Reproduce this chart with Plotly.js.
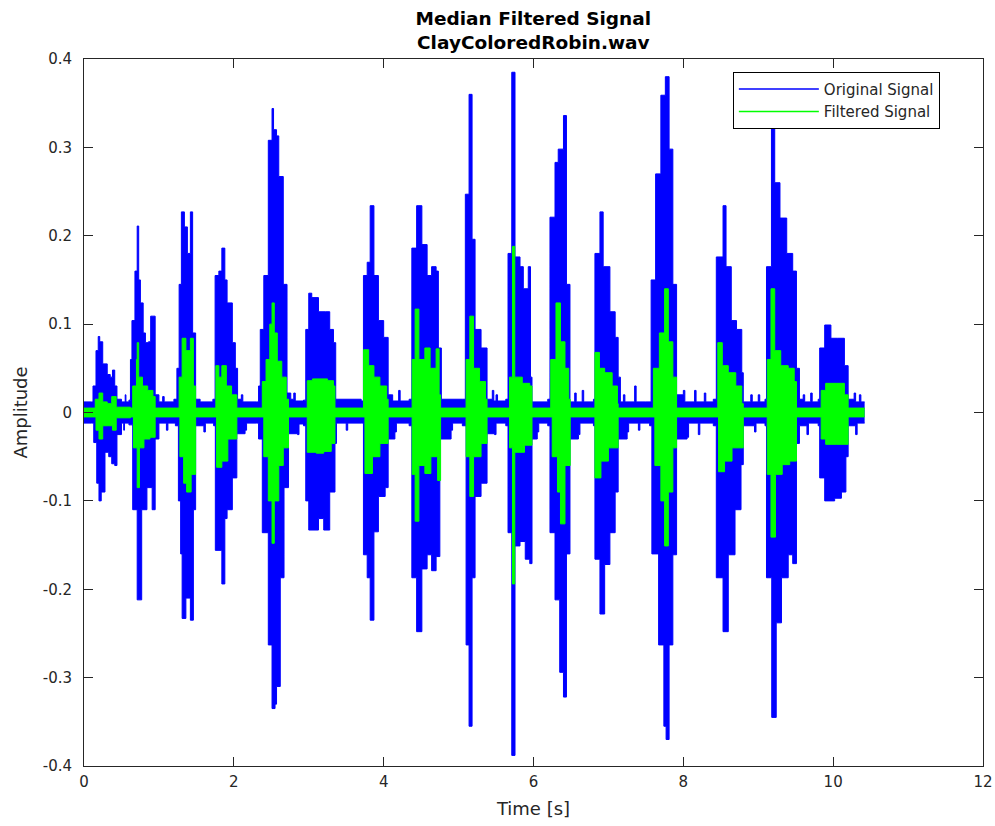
<!DOCTYPE html>
<html>
<head>
<meta charset="utf-8">
<script src="https://cdn.plot.ly/plotly-3.0.1.min.js"></script>
<style>body{margin:0;background:#fff;} #chart{width:995px;height:826px;}</style>
</head>
<body>
<div id="chart"></div>
<script>
// Envelope of the original signal: upper edge
const origUpperT = [0,0.10,0.12,0.16,0.19,0.21,0.25,0.31,0.35,0.38,0.41,0.44,0.50,0.55,0.56,0.60,0.62,0.64,0.68,0.71,0.73,0.753,0.79,0.82,0.86,0.89,0.92,0.95,1.0,1.05,1.07,1.2,1.24,1.27,1.30,1.34,1.38,1.42,1.45,1.49,1.55,1.72,1.75,1.80,1.84,1.88,1.91,1.98,2.02,2.05,2.10,2.12,2.30,2.33,2.353,2.40,2.46,2.51,2.53,2.57,2.60,2.66,2.71,2.76,2.80,2.82,2.93,2.96,3.00,3.04,3.13,3.22,3.28,3.33,3.36,3.70,3.73,3.78,3.82,3.87,3.93,4.00,4.06,4.10,4.12,4.20,4.22,4.34,4.376,4.44,4.51,4.58,4.64,4.70,4.73,4.77,5.05,5.09,5.14,5.18,5.22,5.30,5.38,5.45,5.47,5.50,5.52,5.63,5.66,5.71,5.753,5.82,5.864,5.93,5.96,5.98,6.19,6.22,6.287,6.33,6.40,6.44,6.487,6.55,6.57,6.65,6.67,6.80,6.82,6.887,6.93,7.02,7.09,7.13,7.16,7.20,7.22,7.35,7.37,7.50,7.57,7.63,7.70,7.76,7.81,7.86,7.91,8.00,8.02,8.15,8.17,8.28,8.30,8.40,8.44,8.53,8.57,8.64,8.71,8.78,8.80,8.90,8.92,9.00,9.02,9.09,9.11,9.176,9.22,9.29,9.38,9.46,9.51,9.55,9.60,9.62,9.70,9.72,9.80,9.82,9.887,9.97,10.06,10.15,10.20,10.28,10.30,10.35,10.37,10.42];
const origUpperA = [0.012,0.012,0.03,0.07,0.086,0.08,0.055,0.043,0.04,0.048,0.03,0.015,0.012,0.02,0.012,0.014,0.06,0.104,0.16,0.211,0.15,0.124,0.09,0.079,0.08,0.109,0.109,0.02,0.012,0.018,0.012,0.015,0.05,0.145,0.227,0.21,0.18,0.227,0.09,0.015,0.012,0.015,0.155,0.16,0.186,0.15,0.124,0.079,0.05,0.015,0.02,0.012,0.012,0.03,0.094,0.155,0.308,0.344,0.32,0.313,0.267,0.145,0.022,0.015,0.022,0.013,0.014,0.094,0.135,0.13,0.114,0.114,0.094,0.079,0.015,0.013,0.155,0.17,0.234,0.155,0.104,0.085,0.02,0.02,0.013,0.025,0.013,0.015,0.186,0.234,0.19,0.155,0.165,0.16,0.073,0.015,0.015,0.247,0.36,0.196,0.094,0.073,0.015,0.025,0.013,0.02,0.013,0.015,0.18,0.385,0.176,0.165,0.14,0.165,0.04,0.012,0.015,0.221,0.283,0.298,0.336,0.145,0.012,0.022,0.012,0.025,0.012,0.015,0.18,0.227,0.165,0.114,0.085,0.04,0.012,0.02,0.012,0.03,0.012,0.012,0.15,0.27,0.359,0.38,0.298,0.145,0.02,0.025,0.012,0.025,0.012,0.022,0.012,0.015,0.176,0.234,0.165,0.104,0.094,0.045,0.012,0.02,0.012,0.02,0.012,0.015,0.165,0.323,0.26,0.22,0.18,0.16,0.05,0.015,0.02,0.012,0.022,0.012,0.015,0.073,0.099,0.084,0.084,0.053,0.015,0.022,0.012,0.02,0.012,0.012];
// lower edge
const origLowerT = [0,0.10,0.13,0.17,0.20,0.23,0.28,0.33,0.37,0.41,0.44,0.50,0.53,0.54,0.60,0.65,0.71,0.77,0.84,0.91,0.95,1.0,1.10,1.12,1.22,1.26,1.29,1.31,1.36,1.42,1.46,1.49,1.60,1.62,1.73,1.753,1.84,1.88,1.91,1.98,2.04,2.15,2.17,2.30,2.33,2.38,2.46,2.51,2.55,2.57,2.62,2.67,2.73,2.85,2.87,2.93,2.96,3.00,3.13,3.20,3.28,3.35,3.37,3.50,3.52,3.70,3.73,3.78,3.82,3.87,3.93,4.02,4.06,4.15,4.17,4.34,4.376,4.44,4.51,4.58,4.64,4.70,4.75,4.90,4.92,5.05,5.10,5.14,5.18,5.22,5.30,5.38,5.48,5.50,5.63,5.66,5.71,5.753,5.82,5.89,5.95,5.98,6.05,6.07,6.19,6.22,6.287,6.35,6.40,6.44,6.487,6.60,6.62,6.80,6.82,6.887,6.95,7.02,7.09,7.13,7.25,7.27,7.40,7.42,7.55,7.58,7.67,7.74,7.77,7.81,7.86,7.91,8.05,8.07,8.20,8.22,8.40,8.44,8.53,8.60,8.69,8.77,8.80,8.95,8.97,9.09,9.11,9.18,9.24,9.31,9.40,9.46,9.51,9.55,9.65,9.67,9.80,9.82,9.887,10.02,10.11,10.17,10.20,10.30,10.32,10.42];
const origLowerA = [-0.012,-0.012,-0.034,-0.08,-0.1,-0.09,-0.045,-0.05,-0.058,-0.06,-0.025,-0.012,-0.02,-0.012,-0.014,-0.11,-0.212,-0.11,-0.085,-0.11,-0.03,-0.012,-0.02,-0.012,-0.015,-0.1,-0.16,-0.233,-0.21,-0.235,-0.11,-0.015,-0.022,-0.012,-0.015,-0.156,-0.194,-0.12,-0.11,-0.074,-0.024,-0.02,-0.012,-0.012,-0.03,-0.136,-0.263,-0.335,-0.33,-0.31,-0.187,-0.085,-0.024,-0.025,-0.013,-0.015,-0.1,-0.133,-0.12,-0.133,-0.09,-0.035,-0.012,-0.02,-0.012,-0.012,-0.161,-0.187,-0.235,-0.135,-0.095,-0.085,-0.03,-0.022,-0.012,-0.015,-0.187,-0.248,-0.177,-0.161,-0.179,-0.163,-0.03,-0.02,-0.012,-0.015,-0.263,-0.355,-0.187,-0.095,-0.08,-0.024,-0.025,-0.012,-0.015,-0.136,-0.388,-0.151,-0.146,-0.166,-0.171,-0.03,-0.022,-0.012,-0.015,-0.136,-0.212,-0.294,-0.322,-0.16,-0.03,-0.025,-0.012,-0.015,-0.166,-0.228,-0.172,-0.136,-0.09,-0.03,-0.022,-0.012,-0.02,-0.012,-0.015,-0.16,-0.263,-0.355,-0.37,-0.263,-0.161,-0.03,-0.028,-0.012,-0.025,-0.012,-0.015,-0.187,-0.248,-0.161,-0.11,-0.059,-0.015,-0.022,-0.012,-0.015,-0.187,-0.345,-0.238,-0.187,-0.161,-0.171,-0.035,-0.015,-0.025,-0.012,-0.015,-0.074,-0.1,-0.097,-0.09,-0.05,-0.015,-0.025,-0.012,-0.012];

// Envelope of the median filtered signal: upper edge
const filtUpperT = [0,0.11,0.15,0.2,0.25,0.31,0.37,0.43,0.62,0.65,0.70,0.71,0.73,0.78,0.85,0.92,0.95,1.24,1.27,1.31,1.36,1.42,1.46,1.49,1.73,1.76,1.80,1.84,1.90,1.97,2.04,2.33,2.38,2.43,2.48,2.51,2.54,2.58,2.64,2.70,2.73,2.95,2.98,3.05,3.15,3.25,3.33,3.35,3.71,3.73,3.80,3.87,3.95,4.04,4.06,4.35,4.38,4.42,4.47,4.55,4.62,4.70,4.74,4.76,5.06,5.10,5.15,5.20,5.28,5.36,5.38,5.64,5.68,5.72,5.75,5.85,5.95,5.98,6.19,6.23,6.30,6.36,6.42,6.47,6.49,6.80,6.82,6.88,6.95,7.05,7.12,7.13,7.55,7.60,7.68,7.75,7.80,7.86,7.91,8.42,8.46,8.52,8.60,8.70,8.78,8.80,9.09,9.12,9.17,9.22,9.30,9.40,9.48,9.51,9.80,9.84,9.90,10.05,10.15,10.20,10.42];
const filtUpperA = [0.005,0.005,0.015,0.022,0.012,0.01,0.018,0.006,0.005,0.03,0.06,0.079,0.04,0.03,0.025,0.018,0.005,0.005,0.04,0.084,0.07,0.084,0.03,0.005,0.005,0.053,0.04,0.053,0.03,0.02,0.005,0.005,0.035,0.06,0.1,0.124,0.09,0.058,0.04,0.015,0.005,0.005,0.036,0.038,0.038,0.036,0.03,0.005,0.005,0.071,0.053,0.04,0.03,0.015,0.005,0.005,0.06,0.117,0.06,0.073,0.05,0.072,0.02,0.005,0.005,0.06,0.109,0.05,0.035,0.015,0.005,0.005,0.04,0.188,0.04,0.033,0.03,0.005,0.005,0.06,0.124,0.08,0.05,0.015,0.005,0.005,0.068,0.05,0.045,0.03,0.01,0.005,0.005,0.05,0.09,0.14,0.08,0.04,0.005,0.005,0.079,0.053,0.045,0.03,0.01,0.005,0.005,0.06,0.14,0.07,0.053,0.05,0.035,0.005,0.005,0.025,0.033,0.033,0.02,0.005,0.005];
// lower edge
const filtLowerT = [0,0.11,0.16,0.2,0.25,0.33,0.38,0.43,0.62,0.66,0.71,0.74,0.80,0.88,0.95,1.24,1.28,1.33,1.37,1.43,1.49,1.73,1.77,1.84,1.92,2.04,2.33,2.40,2.46,2.51,2.54,2.60,2.66,2.73,2.95,2.98,3.10,3.20,3.30,3.35,3.71,3.75,3.85,3.95,4.06,4.35,4.38,4.42,4.47,4.55,4.63,4.72,4.76,5.06,5.10,5.15,5.20,5.30,5.38,5.64,5.68,5.72,5.75,5.88,5.98,6.19,6.25,6.32,6.36,6.42,6.49,6.80,6.82,6.90,7.00,7.13,7.55,7.62,7.70,7.75,7.80,7.86,7.91,8.42,8.47,8.55,8.65,8.80,9.09,9.12,9.17,9.23,9.32,9.42,9.51,9.80,9.84,9.90,10.05,10.20,10.42];
const filtLowerA = [-0.005,-0.005,-0.02,-0.03,-0.015,-0.015,-0.02,-0.006,-0.005,-0.04,-0.085,-0.04,-0.03,-0.028,-0.005,-0.005,-0.05,-0.08,-0.09,-0.07,-0.005,-0.005,-0.062,-0.055,-0.03,-0.005,-0.005,-0.05,-0.1,-0.148,-0.1,-0.06,-0.04,-0.005,-0.005,-0.045,-0.046,-0.044,-0.035,-0.005,-0.005,-0.069,-0.05,-0.035,-0.005,-0.005,-0.07,-0.123,-0.06,-0.069,-0.05,-0.077,-0.005,-0.005,-0.05,-0.095,-0.05,-0.035,-0.005,-0.005,-0.04,-0.194,-0.045,-0.037,-0.005,-0.005,-0.05,-0.09,-0.126,-0.06,-0.005,-0.005,-0.074,-0.055,-0.04,-0.005,-0.005,-0.06,-0.1,-0.151,-0.09,-0.04,-0.005,-0.005,-0.067,-0.055,-0.04,-0.005,-0.005,-0.07,-0.141,-0.07,-0.059,-0.055,-0.005,-0.005,-0.03,-0.036,-0.036,-0.005,-0.005];

const seriesNames = ['Original Signal', 'Filtered Signal'];
const xTicks = [0,2,4,6,8,10,12];
const yTicks = [-0.4,-0.3,-0.2,-0.1,0,0.1,0.2,0.3,0.4];

const BLUE = '#0000ff', GREEN = '#00ff00';
function edge(t, a, color, fill) {
  return {x: t, y: a, type: 'scatter', mode: 'lines', fill: fill, fillcolor: color,
          line: {color: color, width: 1, shape: 'hv'}, showlegend: false, hoverinfo: 'skip'};
}
const traces = [
  edge(origLowerT, origLowerA, BLUE, 'none'),
  edge(origUpperT, origUpperA, BLUE, 'tonexty'),
  edge(filtLowerT, filtLowerA, GREEN, 'none'),
  edge(filtUpperT, filtUpperA, GREEN, 'tonexty'),
  {x: [null], y: [null], type: 'scatter', mode: 'lines', name: seriesNames[0], line: {color: BLUE, width: 1.5}},
  {x: [null], y: [null], type: 'scatter', mode: 'lines', name: seriesNames[1], line: {color: GREEN, width: 1.5}}
];

const FONT = 'DejaVu Sans, Verdana, sans-serif';
const axisCommon = {
  showline: true, linecolor: '#262626', linewidth: 1, mirror: 'ticks',
  ticks: 'inside', ticklen: 9, tickwidth: 1, tickcolor: '#262626',
  showgrid: false, zeroline: false,
  tickfont: {family: FONT, size: 15, color: '#262626'}
};
const layout = {
  width: 995, height: 826,
  paper_bgcolor: '#ffffff', plot_bgcolor: '#ffffff',
  margin: {l: 84, r: 12, t: 59, b: 60},
  title: {text: '<b>Median Filtered Signal</b><br><b>ClayColoredRobin.wav</b>',
          font: {family: FONT, size: 18.5, color: '#000'}, x: 0.536, xanchor: 'center',
          yref: 'container', y: 0.970, yanchor: 'bottom'},
  xaxis: Object.assign({}, axisCommon, {range: [0, 12], tickvals: xTicks, ticktext: xTicks.map(String),
          ticklabelstandoff: 2,
          title: {text: 'Time [s]', font: {family: FONT, size: 18, color: '#262626'}, standoff: 12}}),
  yaxis: Object.assign({}, axisCommon, {range: [-0.4, 0.4], tickvals: yTicks, ticktext: yTicks.map(String),
          ticklabelstandoff: 8,
          title: {text: 'Amplitude', font: {family: FONT, size: 18, color: '#262626'}, standoff: 10}}),
  legend: {x: 0.952, xanchor: 'right', y: 0.982, yanchor: 'top', bgcolor: '#ffffff',
           bordercolor: '#000000', borderwidth: 1, font: {family: FONT, size: 15, color: '#262626'},
           itemwidth: 80, tracegroupgap: 0, traceorder: 'normal'},
  showlegend: true
};
Plotly.newPlot('chart', traces, layout, {displayModeBar: false, staticPlot: true});
</script>
</body>
</html>
